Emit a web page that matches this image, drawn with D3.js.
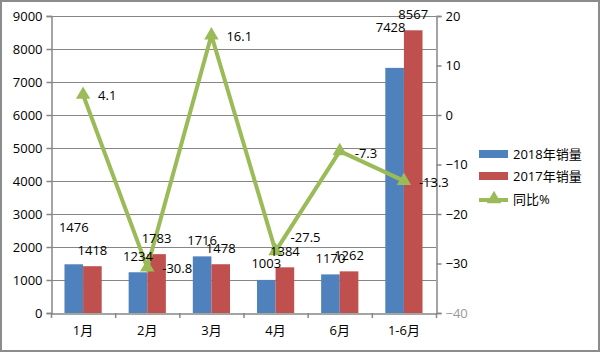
<!DOCTYPE html>
<html><head><meta charset="utf-8">
<script src="https://cdn.jsdelivr.net/npm/d3@7/dist/d3.min.js"></script>
<style>body{margin:0;background:#fff}svg text{font-family:"Open Sans","Noto Sans","Noto Sans CJK SC",sans-serif;}</style>
</head><body><svg id="c" width="600" height="352"></svg>
<script>
const categories = ["1月","2月","3月","4月","6月","1-6月"];
const sales2018 = [1476,1234,1716,1003,1170,7428];
const sales2017 = [1418,1783,1478,1384,1262,8567];
const yoy = [4.1,-30.8,16.1,-27.5,-7.3,-13.3];
const leftTicks = [0,1000,2000,3000,4000,5000,6000,7000,8000,9000];
const rightTicks = [-40,-30,-20,-10,0,10,20];
const seriesNames = ["2018年销量","2017年销量","同比%"];
// label placement tweaks (layout only)
const lift2018 = [37,16,16,16,16,40];
const lift2017 = [16,16,16,16,16,16];
const yoyDy = [1,1,1,-14,2,2];

const svg = d3.select("#c");
const blue="#4F81BD", red="#C0504D", green="#9BBB59", grid="#868686";
const L=51, R=436, T=16, B=313;
svg.append("rect").attr("x",1).attr("y",1).attr("width",598).attr("height",350)
  .attr("fill","#fff").attr("stroke","#8c8c8c").attr("stroke-width",2);

const x = d3.scaleBand().domain(categories).range([L,R]).paddingInner(0.42).paddingOuter(0.21);
const x0 = d3.scaleBand().domain(categories).range([L,R]);
const xs = d3.scaleBand().domain([0,1]).range([0,x.bandwidth()]);
const y = d3.scaleLinear().domain([0,9000]).range([B,T]);
const y2 = d3.scaleLinear().domain([-40,20]).range([B,T]);

// gridlines
svg.append("g").selectAll("line").data(leftTicks.filter(d=>d>0)).join("line")
  .attr("x1",L).attr("x2",R).attr("y1",d=>y(d)+0.5).attr("y2",d=>y(d)+0.5)
  .attr("stroke",grid).attr("stroke-width",1);

// bars
const gb = svg.append("g");
gb.selectAll(".b18").data(categories).join("rect")
  .attr("x",(d)=>x(d)+xs(0)).attr("width",xs.bandwidth())
  .attr("y",(d,i)=>y(sales2018[i])).attr("height",(d,i)=>B-y(sales2018[i])).attr("fill",blue);
gb.selectAll(".b17").data(categories).join("rect").attr("class","b17")
  .attr("x",(d)=>x(d)+xs(1)).attr("width",xs.bandwidth())
  .attr("y",(d,i)=>y(sales2017[i])).attr("height",(d,i)=>B-y(sales2017[i])).attr("fill",red);

// axes
const axL = svg.append("g").attr("transform",`translate(${L+0.5},0)`)
  .call(d3.axisLeft(y).tickValues(leftTicks).tickSize(5).tickPadding(4).tickFormat(d3.format("d")));
const axR = svg.append("g").attr("transform",`translate(${R+0.5},0)`)
  .call(d3.axisRight(y2).tickValues(rightTicks).tickSize(5).tickPadding(4));
const axB = svg.append("g").attr("transform",`translate(0,${B+0.5})`)
  .call(d3.axisBottom(x0).tickSize(0).tickPadding(12));
[axL,axR,axB].forEach(a=>{
  a.selectAll("path").attr("stroke",grid).attr("stroke-width",1.5);
  a.selectAll("line").attr("stroke",grid).attr("stroke-width",1.5);
  a.selectAll("text").attr("font-size",13).attr("fill","#000");
});
axR.selectAll("text").filter(d=>d===-40).attr("fill","#999");
// category boundary ticks
svg.append("g").selectAll("line").data(categories.concat(["end"])).join("line")
  .attr("x1",(d,i)=>L+i*x0.step()+0.5).attr("x2",(d,i)=>L+i*x0.step()+0.5)
  .attr("y1",B).attr("y2",B+5).attr("stroke",grid).attr("stroke-width",1.5);

// line
const cx = d=>x0(d)+x0.bandwidth()/2;
const line = d3.line().x((d,i)=>cx(categories[i])).y(d=>y2(d));
svg.append("path").datum(yoy).attr("d",line).attr("fill","none")
  .attr("stroke",green).attr("stroke-width",4).attr("stroke-linejoin","miter");
const tri = d3.symbol().type(d3.symbolTriangle).size(90);
svg.append("g").selectAll("path").data(yoy).join("path")
  .attr("d",tri).attr("fill",green)
  .attr("transform",(d,i)=>`translate(${cx(categories[i])},${y2(d)})`);

// labels
const lab = svg.append("g").attr("font-size",13).attr("fill","#000");
lab.selectAll(".l18").data(sales2018).join("text").attr("class","l18")
  .attr("x",(d,i)=>x(categories[i])+xs(0)+xs.bandwidth()/2 - (i===5?4:0))
  .attr("y",(d,i)=>y(d)-lift2018[i]).attr("dy","0.35em").attr("text-anchor","middle").text(d=>d);
lab.selectAll(".l17").data(sales2017).join("text").attr("class","l17")
  .attr("x",(d,i)=>x(categories[i])+xs(1)+xs.bandwidth()/2)
  .attr("y",(d,i)=>y(d)-lift2017[i]).attr("dy","0.35em").attr("text-anchor","middle").text(d=>d);
lab.selectAll(".ly").data(yoy).join("text").attr("class","ly")
  .attr("x",(d,i)=>cx(categories[i])+15)
  .attr("y",(d,i)=>y2(d)+yoyDy[i]).attr("dy","0.35em").text(d=>d);

// legend
const lg = svg.append("g").attr("font-size",13);
lg.append("rect").attr("x",479).attr("y",150).attr("width",29).attr("height",8).attr("fill",blue);
lg.append("rect").attr("x",479).attr("y",172).attr("width",29).attr("height",8).attr("fill",red);
lg.append("line").attr("x1",479).attr("x2",508).attr("y1",200).attr("y2",200).attr("stroke",green).attr("stroke-width",4);
lg.append("path").attr("d",tri).attr("fill",green).attr("transform","translate(494,199)");
[154,176,199].forEach((yy,i)=>lg.append("text").attr("x",513).attr("y",yy).attr("dy","0.35em").text(seriesNames[i]));
</script></body></html>
